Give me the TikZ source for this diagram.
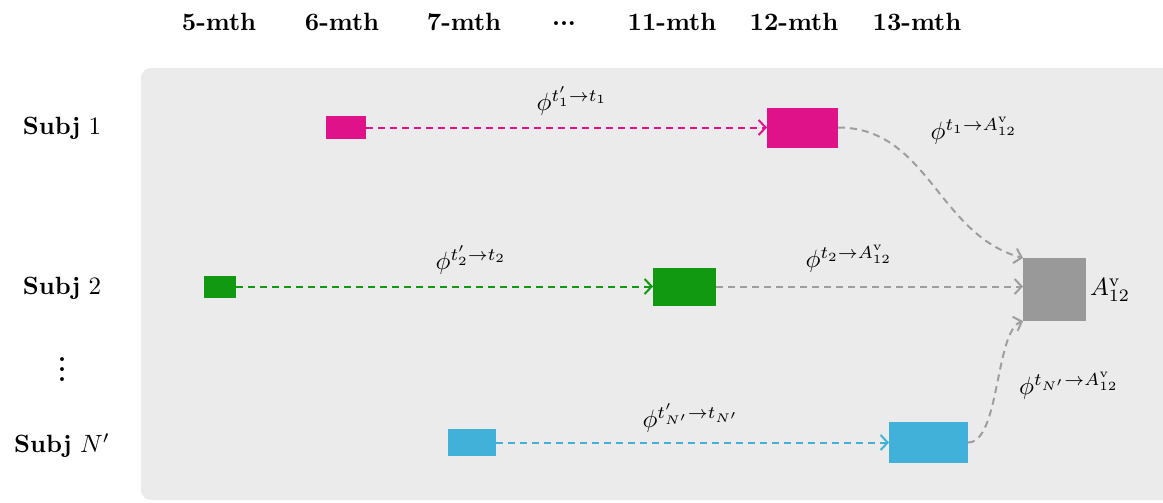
\documentclass[tikz,border=0pt]{standalone}
\usepackage{amsmath,amssymb}
\usetikzlibrary{arrows.meta}

\definecolor{panel}{RGB}{235,235,235}
\definecolor{mag}{RGB}{224,18,138}
\definecolor{grn}{RGB}{18,153,18}
\definecolor{cyn}{RGB}{65,177,218}
\definecolor{boxgray}{RGB}{153,153,153}
\definecolor{linkgray}{RGB}{158,158,158}

\tikzset{
  blk/.style={rectangle, inner sep=0pt, outer sep=0pt},
  link/.style={dash pattern=on 2.8pt off 2pt, line width=0.8pt,
    -{Straight Barb[length=2.8pt,width=6pt,line width=0.8pt]}},
  hdr/.style={font=\bfseries, text height=6.9pt, text depth=0pt},
  lbl/.style={inner sep=0pt},
}

\begin{document}
\begin{tikzpicture}[x=0.4pt,y=-0.4pt]
\useasboundingbox (0,0) rectangle (1163,502);
\clip (0,0) rectangle (1163,502);

% shaded panel behind the timelines
\fill[panel, rounded corners=4pt] (141,68) rectangle (1190,500);

% month headers
\node[hdr] (h5)  at (219,22) {5-mth};
\node[hdr] (h6)  at (342,22) {6-mth};
\node[hdr] (h7)  at (464,22) {7-mth};
\node[hdr] (hdots) at (564,22) {\raisebox{2.2pt}{...}};
\node[hdr] (h11) at (672,22) {11-mth};
\node[hdr] (h12) at (794,22) {12-mth};
\node[hdr] (h13) at (917,22) {13-mth};

% subject labels
\node (s1) at (62,128) {\textbf{Subj} $1$};
\node (s2) at (62,288) {\textbf{Subj} $2$};
\node[font=\bfseries] (sv) at (62,362) {\vdots};
\node (sn) at (62,446) {\textbf{Subj} $N'$};

% observation blocks
\node[blk, fill=mag, minimum width=16pt, minimum height=9.2pt] (m1) at (346,127.5) {};
\node[blk, fill=mag, minimum width=28.4pt, minimum height=16pt] (m2) at (802.5,127.5) {};
\node[blk, fill=grn, minimum width=12.8pt, minimum height=8.8pt] (g1) at (220,286.5) {};
\node[blk, fill=grn, minimum width=25.2pt, minimum height=15.2pt] (g2) at (684.5,286.5) {};
\node[blk, fill=cyn, minimum width=19.2pt, minimum height=10.8pt] (c1) at (472,442.5) {};
\node[blk, fill=cyn, minimum width=31.6pt, minimum height=16.4pt] (c2) at (928.5,442.5) {};
\node[blk, fill=boxgray, minimum width=25.2pt, minimum height=25.2pt] (A) at (1054.5,289.5) {};

% within-subject transitions
\draw[link, mag] (m1.east) -- (m2.west);
\draw[link, grn] (g1.east) -- (g2.west);
\draw[link, cyn] (c1.east) -- (c2.west);

% transitions to the target
\draw[link, linkgray] (m2.east) .. controls +(90,0) and +(-85,-23) .. (A.north west);
\draw[link, linkgray] (g2.east) -- (g2.east -| A.west);
\draw[link, linkgray] (c2.east) .. controls +(32,0) and +(-28,10) .. (A.south west);

% edge labels
\node[lbl] (l1)  at (572,101) {$\phi^{t'_1\to t_1}$};
\node[lbl] (l2)  at (471,260) {$\phi^{t'_2\to t_2}$};
\node[lbl] (ln)  at (691,418) {$\phi^{t'_{N'}\to t_{N'}}$};
\node[lbl] (la1) at (974,131) {$\phi^{t_1\to A^{\mathrm{v}}_{12}}$};
\node[lbl] (la2) at (849,259) {$\phi^{t_2\to A^{\mathrm{v}}_{12}}$};
\node[lbl] (lan) at (1069,386) {$\phi^{t_{N'}\to A^{\mathrm{v}}_{12}}$};
\node[lbl] (lA)  at (1110,290) {$A^{\mathrm{v}}_{12}$};
\end{tikzpicture}
\end{document}
